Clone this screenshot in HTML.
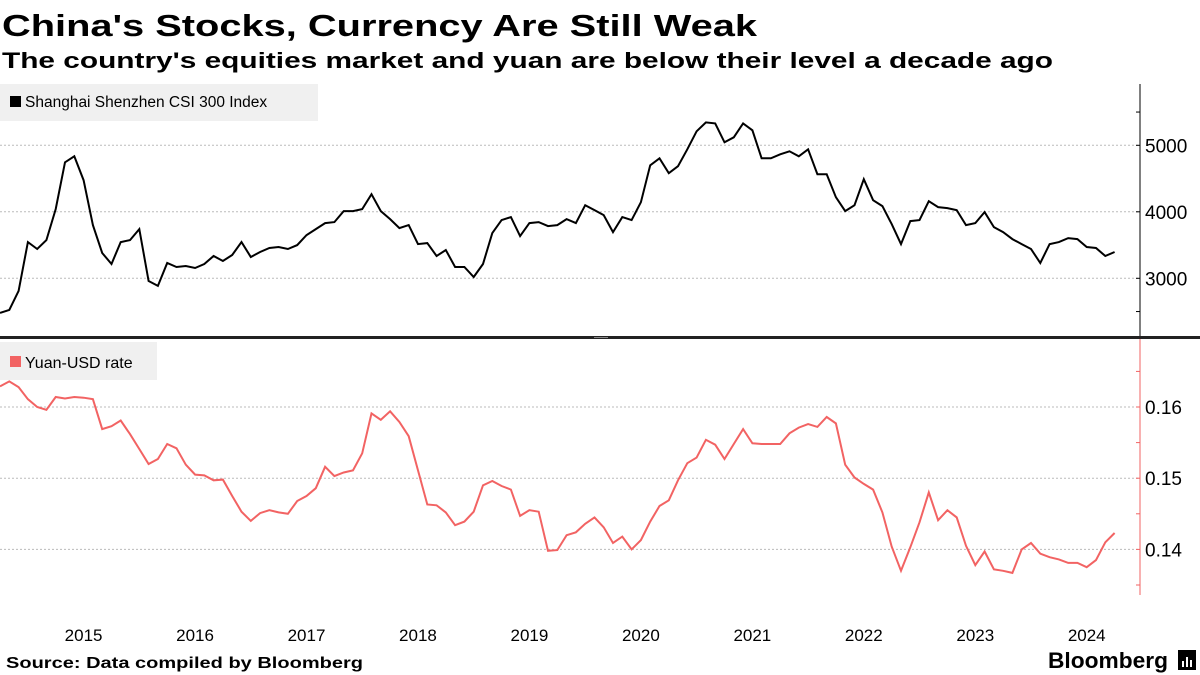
<!DOCTYPE html>
<html><head><meta charset="utf-8"><style>
body{margin:0;background:#fff;}
svg{display:block;font-family:"Liberation Sans",sans-serif;}
</style></head><body>
<svg id="chart" width="1200" height="675" viewBox="0 0 1200 675" xmlns="http://www.w3.org/2000/svg">
<text x="2" y="36" font-size="31" font-weight="bold" textLength="755" lengthAdjust="spacingAndGlyphs">China's Stocks, Currency Are Still Weak</text>
<text x="2" y="68" font-size="22" font-weight="bold" textLength="1051" lengthAdjust="spacingAndGlyphs">The country's equities market and yuan are below their level a decade ago</text>
<g id="topPanel"></g>
<g id="botPanel"></g>
<rect x="0" y="336" width="1200" height="3" fill="#222"/>
<rect x="594" y="337" width="14" height="1" fill="#888"/>
<g>
<rect x="0" y="84" width="318" height="37" fill="#f0f0f0"/>
<rect x="10" y="96" width="11" height="11" fill="#000"/>
<text x="25" y="107" font-size="15.5">Shanghai Shenzhen CSI 300 Index</text>
</g>
<g>
<rect x="0" y="342" width="157" height="38" fill="#f0f0f0"/>
<rect x="10" y="356" width="11" height="11" fill="#f26363"/>
<text x="25" y="368" font-size="16">Yuan-USD rate</text>
</g>
<g id="xaxis"></g>
<text x="6" y="668" font-size="16" font-weight="bold" textLength="357" lengthAdjust="spacingAndGlyphs">Source: Data compiled by Bloomberg</text>
<text x="1048" y="668" font-size="22" font-weight="bold" textLength="120" lengthAdjust="spacingAndGlyphs">Bloomberg</text>
<g><rect x="1178" y="650" width="18" height="20" fill="#000"/><rect x="1182" y="661" width="2" height="6" fill="#fff"/><rect x="1186" y="657" width="2" height="10" fill="#fff"/><rect x="1190" y="660" width="2" height="7" fill="#fff"/></g>
</svg>
<script>
const stockValues=[2480,2525,2810,3545,3440,3575,4040,4745,4835,4475,3800,3380,3215,3545,3575,3740,2960,2885,3230,3170,3185,3155,3215,3335,3260,3350,3545,3320,3395,3455,3470,3440,3500,3650,3740,3830,3845,4010,4010,4040,4265,4010,3890,3755,3800,3515,3530,3335,3425,3170,3170,3020,3215,3680,3875,3920,3635,3830,3845,3785,3800,3890,3830,4100,4025,3950,3695,3920,3875,4145,4700,4805,4580,4685,4940,5210,5345,5330,5045,5120,5330,5225,4805,4805,4865,4910,4835,4940,4565,4565,4220,4010,4100,4490,4175,4085,3815,3515,3860,3875,4160,4070,4055,4025,3800,3830,3995,3770,3695,3590,3515,3440,3230,3515,3545,3605,3590,3470,3455,3335,3395];
const yuanValues=[0.1629,0.1636,0.1628,0.1611,0.1600,0.1596,0.1614,0.1612,0.1614,0.1613,0.1611,0.1569,0.1573,0.1581,0.1562,0.1541,0.1520,0.1527,0.1548,0.1542,0.1519,0.1505,0.1504,0.1497,0.1498,0.1475,0.1453,0.1440,0.1451,0.1455,0.1452,0.1450,0.1468,0.1475,0.1486,0.1516,0.1503,0.1508,0.1511,0.1535,0.1591,0.1582,0.1594,0.1579,0.1559,0.1511,0.1463,0.1462,0.1452,0.1434,0.1439,0.1453,0.1490,0.1496,0.1489,0.1484,0.1447,0.1455,0.1453,0.1398,0.1399,0.1420,0.1424,0.1436,0.1445,0.1431,0.1409,0.1418,0.1400,0.1413,0.1439,0.1461,0.1469,0.1497,0.1521,0.1529,0.1554,0.1547,0.1527,0.1548,0.1569,0.1549,0.1548,0.1548,0.1548,0.1563,0.1571,0.1576,0.1572,0.1586,0.1577,0.1519,0.1501,0.1492,0.1484,0.1452,0.1404,0.1370,0.1403,0.1438,0.1480,0.1441,0.1455,0.1445,0.1405,0.1378,0.1397,0.1372,0.1370,0.1367,0.1400,0.1409,0.1394,0.1389,0.1386,0.1381,0.1381,0.1375,0.1385,0.1410,0.1423];
const yearLabels=["2015","2016","2017","2018","2019","2020","2021","2022","2023","2024"];
const stockTicks=[3000,4000,5000];
const stockMinor=[2500,5500];
const yuanTicks=[0.14,0.15,0.16];
const yuanMinor=[0.135,0.145,0.155,0.165];
const startYear=2014, startMonth=3; // index 0 = Apr 2014

const NS="http://www.w3.org/2000/svg";
function mk(tag,attrs,parent){const e=document.createElementNS(NS,tag);for(const k in attrs)e.setAttribute(k,attrs[k]);parent.appendChild(e);return e;}
const step=1114.6/120;
const xOf=i=>i*step;
const ySt=v=>145.3+(5000-v)*0.0665;
const yYu=v=>407+(0.16-v)*7120;
const AX=1140;
const topPanel=document.getElementById('topPanel'), botPanel=document.getElementById('botPanel'), xa=document.getElementById('xaxis');

stockTicks.forEach(t=>{
  const g=mk('line',{x1:0,x2:AX,y1:ySt(t),y2:ySt(t),stroke:'#bbb','stroke-dasharray':'2,2','stroke-width':1},topPanel);
  
  
  const tk=mk('line',{x1:AX-4,x2:AX,y1:ySt(t),y2:ySt(t),stroke:'#000'},topPanel);
  
  
  const tx=mk('text',{x:AX+5,y:ySt(t)+7,'font-size':19},topPanel);
  tx.textContent=t;
  
  
});
stockMinor.forEach(t=>{
  const tk=mk('line',{x1:AX-4,x2:AX,y1:ySt(t),y2:ySt(t),stroke:'#000'},topPanel);
  
  
});
const ax1=mk('line',{x1:AX,x2:AX,y1:84,y2:336,stroke:'#000','stroke-width':1},topPanel);


const p1=mk('polyline',{points:stockValues.map((v,i)=>xOf(i).toFixed(1)+','+ySt(v).toFixed(1)).join(' '),fill:'none',stroke:'#000','stroke-width':2},topPanel);



yuanTicks.forEach(t=>{
  const g=mk('line',{x1:0,x2:AX,y1:yYu(t),y2:yYu(t),stroke:'#bbb','stroke-dasharray':'2,2','stroke-width':1},botPanel);
  
  
  const tk=mk('line',{x1:AX-4,x2:AX,y1:yYu(t),y2:yYu(t),stroke:'#f26363'},botPanel);
  
  
  const tx=mk('text',{x:AX+5,y:yYu(t)+7,'font-size':19},botPanel);
  tx.textContent=t.toFixed(2);
  
  
});
yuanMinor.forEach(t=>{
  const tk=mk('line',{x1:AX-4,x2:AX,y1:yYu(t),y2:yYu(t),stroke:'#f26363'},botPanel);
  
  
});
const ax2=mk('line',{x1:AX,x2:AX,y1:339,y2:595,stroke:'#f26363','stroke-width':1},botPanel);


const p2=mk('polyline',{points:yuanValues.map((v,i)=>xOf(i).toFixed(1)+','+yYu(v).toFixed(1)).join(' '),fill:'none',stroke:'#f26363','stroke-width':2},botPanel);



yearLabels.forEach(y=>{
  const idx=(parseInt(y)-startYear)*12-startMonth;
  const t=mk('text',{x:xOf(idx),y:641,'font-size':17,'text-anchor':'middle'},xa);
  t.textContent=y;
  
  
});
</script>
</body></html>
